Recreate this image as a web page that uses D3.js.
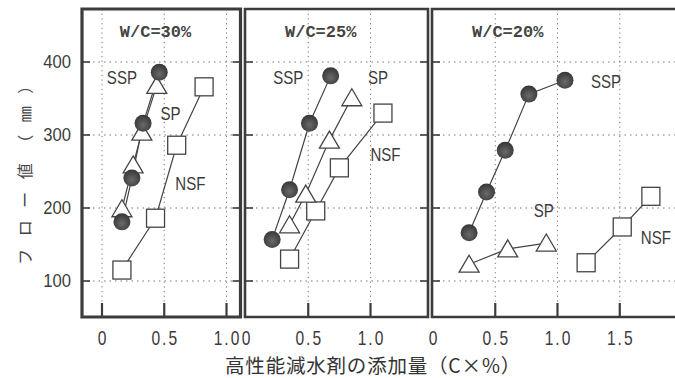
<!DOCTYPE html>
<html>
<head>
<meta charset="utf-8">
<script src="https://cdn.jsdelivr.net/npm/d3@7/dist/d3.min.js"></script>
<style>
  html, body { margin: 0; padding: 0; background: #fff; }
  svg { display: block; }
</style>
</head>
<body>
<svg id="chart"></svg>
<script>
// パネル（W/C）ごとのデータ
const panelTitles = ['W/C=30%', 'W/C=25%', 'W/C=20%'];
const seriesNames = ['SSP', 'SP', 'NSF'];

// 添加量 (C×%)
const sspX = [[0.16, 0.24, 0.33, 0.46], [0.21, 0.35, 0.51, 0.68], [0.29, 0.43, 0.58, 0.77, 1.06]];
const sspY = [[181, 241, 316, 386], [157, 225, 316, 381], [166, 222, 279, 356, 375]];
const spX = [[0.16, 0.25, 0.32, 0.44], [0.35, 0.48, 0.67, 0.85], [0.29, 0.60, 0.91]];
const spY = [[199, 259, 304, 368], [177, 219, 293, 351], [123, 144, 152]];
const nsfX = [[0.16, 0.43, 0.60, 0.82], [0.35, 0.56, 0.75, 1.10], [1.23, 1.52, 1.75]];
const nsfY = [[115, 186, 286, 366], [130, 196, 255, 330], [125, 174, 216]];

const xTicks = [[0, 0.5, 1.0], [0, 0.5, 1.0], [0, 0.5, 1.0, 1.5]];
const xTickLabels = [['0', '0.5', '1.0'], ['0', '0.5', '1.0'], ['0', '0.5', '1.0', '1.5']];
const yTicks = [100, 200, 300, 400];

const xTitle = '高性能減水剤の添加量（C×%）';
const yTitle = 'フロー値（㎜）';

// レイアウト
const [width, height] = [675, 378];
const frameTop = 9, frameBottom = 317;
const frames = [[82, 240.5], [245, 428], [432, 680]];
const zeroPx = [102, 246, 433];
const unitPx = 124.5;

// 系列ラベルの位置（データ座標）
const labelPos = [
  [[0.16, 379], [0.55, 330], [0.71, 234]],
  [[0.34, 379], [1.06, 379], [1.12, 273]],
  [[1.39, 373], [0.89, 197], [1.79, 160]]
];
const titlePos = [0.43, 0.60, 0.60];

const ink = '#3c3c3c';
const sans = '"Liberation Sans", Arial, sans-serif';

let svg = d3.select('#chart')
  .attr('width', width)
  .attr('height', height)

let defs = svg.append('defs')
let grad = defs.append('radialGradient')
  .attr('id', 'ball')
  .attr('cx', '50%').attr('cy', '60%').attr('r', '60%')
grad.append('stop').attr('offset', '0%').attr('stop-color', '#6a6a6a')
grad.append('stop').attr('offset', '100%').attr('stop-color', '#353535')

let y = d3.scaleLinear()
  .domain([100, 400])
  .range([281, 62])

// 細長い数字用（横だけ縮める）
function narrowText(sel, px, py, sx) {
  return sel.append('text')
    .attr('transform', 'translate(' + px + ',' + py + ') scale(' + sx + ',1)')
    .attr('dominant-baseline', 'central')
    .style('font-family', sans)
}

// 縦軸ラベル
let yAxisG = svg.append('g')
yTicks.forEach(function(d) {
  narrowText(yAxisG, 71, y(d), 0.9)
    .attr('text-anchor', 'end')
    .style('font-size', '18.5px')
    .attr('fill', ink)
    .text(d)
})

svg.append('text')
  .attr('transform', 'translate(24,' + 165 + ') rotate(-90)')
  .attr('text-anchor', 'middle')
  .attr('dominant-baseline', 'central')
  .style('font-family', '"Noto Sans CJK JP", sans-serif')
  .style('font-size', '16px')
  .style('letter-spacing', '12.5px')
  .attr('fill', '#444')
  .text(yTitle)

// 横軸タイトル
svg.append('text')
  .attr('x', 373)
  .attr('y', 364)
  .attr('text-anchor', 'middle')
  .attr('dominant-baseline', 'central')
  .style('font-family', '"Noto Sans CJK JP", sans-serif')
  .style('font-size', '19.5px')
  .style('letter-spacing', '0.8px')
  .attr('fill', '#333')
  .text(xTitle)

panelTitles.forEach(function(title, p) {
  let [left, right] = frames[p]
  let x = d3.scaleLinear()
    .domain([0, 1])
    .range([zeroPx[p], zeroPx[p] + unitPx])

  let g = svg.append('g')

  // 点線グリッド
  g.selectAll('.hgrid')
    .data(yTicks)
    .enter()
    .append('line')
    .attr('x1', left).attr('x2', Math.min(right, width))
    .attr('y1', d => y(d)).attr('y2', d => y(d))
    .attr('stroke', '#777')
    .attr('stroke-width', 1)
    .attr('stroke-dasharray', '1.5,4')

  g.selectAll('.vgrid')
    .data(xTicks[p].filter(d => x(d) > left + 4))
    .enter()
    .append('line')
    .attr('x1', d => x(d)).attr('x2', d => x(d))
    .attr('y1', frameTop).attr('y2', frameBottom)
    .attr('stroke', '#777')
    .attr('stroke-width', 1)
    .attr('stroke-dasharray', '1.2,3.5')

  // 枠
  g.append('path')
    .attr('d', p === 2
      ? 'M' + right + ',' + frameTop + 'H' + left + 'V' + frameBottom + 'H' + right
      : 'M' + left + ',' + frameTop + 'H' + right + 'V' + frameBottom + 'H' + left + 'Z')
    .attr('fill', 'none')
    .attr('stroke', ink)
    .attr('stroke-width', p === 0 ? 3.2 : 2.6)

  // 目盛り
  g.selectAll('.xtick')
    .data(xTicks[p].filter(d => x(d) > left + 4))
    .enter()
    .append('line')
    .attr('x1', d => x(d)).attr('x2', d => x(d))
    .attr('y1', frameBottom).attr('y2', frameBottom - 14)
    .attr('stroke', ink)
    .attr('stroke-width', 2.2)

  let ySides = p === 2 ? [[left, 1]] : [[left, 1], [right, -1]]
  ySides.forEach(function(s) {
    g.selectAll(null)
      .data(yTicks)
      .enter()
      .append('line')
      .attr('x1', s[0]).attr('x2', s[0] + s[1] * 8)
      .attr('y1', d => y(d)).attr('y2', d => y(d))
      .attr('stroke', ink)
      .attr('stroke-width', 1.6)
  })

  xTicks[p].forEach(function(d, i) {
    narrowText(g, x(d) + 1, 338, 0.78)
      .attr('text-anchor', 'middle')
      .style('font-size', '20px')
      .style('letter-spacing', '2.5px')
      .attr('fill', ink)
      .text(xTickLabels[p][i])
  })

  // パネルタイトル
  g.append('text')
    .attr('x', x(titlePos[p]))
    .attr('y', y(440))
    .attr('text-anchor', 'middle')
    .attr('dominant-baseline', 'central')
    .style('font-family', '"Liberation Mono", "DejaVu Sans Mono", monospace')
    .style('font-size', '17px')
    .style('font-weight', 'bold')
    .attr('fill', '#444')
    .text(title)

  let line = d3.line()
    .x(d => x(d[0]))
    .y(d => y(d[1]))

  let series = [
    d3.zip(sspX[p], sspY[p]),
    d3.zip(spX[p], spY[p]),
    d3.zip(nsfX[p], nsfY[p])
  ]

  series.forEach(function(pts) {
    g.append('path')
      .attr('d', line(pts))
      .attr('fill', 'none')
      .attr('stroke', '#444')
      .attr('stroke-width', 1.2)
  })

  // 記号
  g.selectAll('.sq')
    .data(series[2])
    .enter()
    .append('rect')
    .attr('x', d => x(d[0]) - 9)
    .attr('y', d => y(d[1]) - 9)
    .attr('width', 18)
    .attr('height', 18)
    .attr('fill', '#fff')
    .attr('stroke', '#444')
    .attr('stroke-width', 1.3)

  g.selectAll('.tri')
    .data(series[1])
    .enter()
    .append('path')
    .attr('d', function(d) {
      let cx = x(d[0]), cy = y(d[1])
      return 'M' + cx + ',' + (cy - 9) + 'L' + (cx + 10) + ',' + (cy + 8) + 'L' + (cx - 10) + ',' + (cy + 8) + 'Z'
    })
    .attr('fill', '#fff')
    .attr('stroke', '#444')
    .attr('stroke-width', 1.3)

  g.selectAll('.ball')
    .data(series[0])
    .enter()
    .append('circle')
    .attr('cx', d => x(d[0]))
    .attr('cy', d => y(d[1]))
    .attr('r', 8.5)
    .attr('fill', 'url(#ball)')

  // 系列名
  seriesNames.forEach(function(name, i) {
    narrowText(g, x(labelPos[p][i][0]), y(labelPos[p][i][1]), 0.86)
      .attr('text-anchor', 'middle')
      .style('font-size', '17.5px')
      .attr('fill', '#3a3a3a')
      .text(name)
  })
})
</script>
</body>
</html>
